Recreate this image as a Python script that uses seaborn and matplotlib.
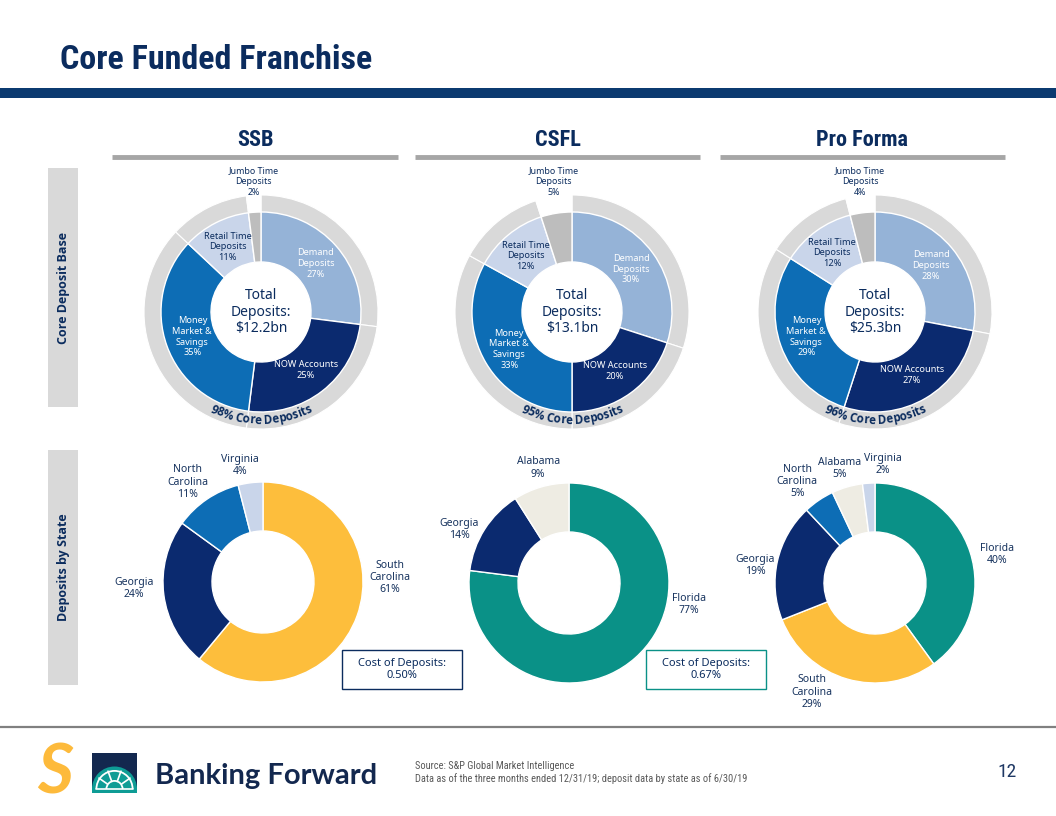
import numpy as np
import matplotlib
matplotlib.use("Agg")
import matplotlib.pyplot as plt
import seaborn as sns
from matplotlib import font_manager
from matplotlib.font_manager import FontProperties
from matplotlib.textpath import TextToPath
from matplotlib.patches import Rectangle, Wedge

# ---------------- data ----------------
banks = ["SSB", "CSFL", "Pro Forma"]
deposit_types = ["Demand\nDeposits", "NOW Accounts", "Money\nMarket &\nSavings",
                 "Retail Time\nDeposits", "Jumbo Time\nDeposits"]
ssb_mix = [27, 25, 35, 11, 2]
csfl_mix = [30, 20, 33, 12, 5]
proforma_mix = [28, 27, 29, 12, 4]
core_pct = [98, 95, 96]
total_deposits = ["$12.2bn", "$13.1bn", "$25.3bn"]

ssb_states = ["South\nCarolina", "Georgia", "North\nCarolina", "Virginia"]
ssb_state_pct = [61, 24, 11, 4]
csfl_states = ["Florida", "Georgia", "Alabama"]
csfl_state_pct = [77, 14, 9]
proforma_states = ["Florida", "South\nCarolina", "Georgia", "North\nCarolina", "Alabama", "Virginia"]
proforma_state_pct = [40, 29, 19, 5, 5, 2]

cost_of_deposits = ["0.50%", "0.67%"]

# ---------------- style ----------------
sns.set_theme(style="white")
fonts = font_manager.fontManager.ttflist
installed = {f.name for f in fonts}


def pick(*names):
    for n in names:
        if n in installed:
            return n
    return "DejaVu Sans"


def pick_bold(*names):
    for n in names:
        for f in fonts:
            w = f.weight if isinstance(f.weight, int) else 700 if "bold" in str(f.weight).lower() else 400
            if f.name == n and w >= 600 and f.style == "normal":
                return n
    return "DejaVu Sans"


BODY = pick("Noto Sans", "Open Sans", "DejaVu Sans")
BOLD = pick_bold("Noto Sans", "Open Sans", "Lato", "Roboto", "DejaVu Sans")
NARROW = pick("Liberation Sans Narrow", "Roboto Condensed", "DejaVu Sans Condensed")
NSCALE = 1.0 if NARROW != "DejaVu Sans" else 0.75
LOGO = pick("Lato", "Roboto", "DejaVu Sans")
plt.rcParams["font.family"] = [BODY, "DejaVu Sans"]

NAVY = "#0B2C5E"
LABEL = "#17335E"
RING = "#D9D9D9"
type_colors = sns.color_palette(["#95B3D7", "#0B2A6F", "#0D6DB5", "#C9D5EA", "#BDBDBD"])
state_colors = {
    "South\nCarolina": "#FDBE3C", "Georgia": "#0B2A6F", "North\nCarolina": "#0D6DB5",
    "Virginia": "#C9D5EA", "Florida": "#0A9187", "Alabama": "#EEECE3",
}

W, H = 1056, 816
fig = plt.figure(figsize=(W / 100, H / 100), dpi=100)
fig.patch.set_facecolor("white")
bg = fig.add_axes([0, 0, 1, 1])
bg.set_xlim(0, W)
bg.set_ylim(H, 0)
bg.axis("off")

# ---------------- slide frame ----------------
bg.text(60, 60, "Core Funded Franchise", fontsize=24.5 * NSCALE, fontweight="bold",
        family=[NARROW, "DejaVu Sans"], color=NAVY, ha="left", va="center")
bg.add_patch(Rectangle((0, 88), W, 10, color="#0B3A70", lw=0))

header_x = [(112, 398), (415, 700), (720, 1005)]
for name, (x0, x1) in zip(banks, header_x):
    bg.text((x0 + x1) / 2, 140, name, fontsize=16 * NSCALE, fontweight="bold",
            family=[NARROW, "DejaVu Sans"], color=NAVY, ha="center", va="center")
    bg.plot([x0, x1], [157, 157], color="#A6A6A6", lw=3.5, solid_capstyle="butt")

for (y0, y1), txt in zip([(168, 407), (450, 685)], ["Core Deposit Base", "Deposits by State"]):
    bg.add_patch(Rectangle((48, y0), 30, y1 - y0, color=RING, lw=0))
    bg.text(63.5, (y0 + y1) / 2, txt, rotation=90, fontsize=9, fontweight="bold",
            family=[BOLD, "DejaVu Sans"], color=NAVY, ha="center", va="center")

bg.plot([0, W], [727, 727], color="#808080", lw=1.6)

# logo
bg.text(55, 774, "S", fontsize=50, fontweight="bold", style="italic",
        family=[LOGO, "DejaVu Sans"], color="#FDBA3B", ha="center", va="center")
bg.add_patch(Rectangle((92, 753), 45, 40, color="#13284F", lw=0))
bg.add_patch(Rectangle((92, 789), 45, 4, color="#0E9C95", lw=0))
bg.add_patch(Wedge((114.5, 789), 22.5, 180, 360, color="#0E9C95", lw=0))
bg.add_patch(Wedge((114.5, 789), 19, 180, 360, width=1.8, color="white", lw=0))
bg.add_patch(Wedge((114.5, 789), 9, 180, 360, width=1.8, color="white", lw=0))
bg.plot([96, 133], [789, 789], color="white", lw=1.2)
for a in [215, 250, 290, 325]:
    t = np.radians(a)
    bg.plot([114.5 + 9 * np.cos(t), 114.5 + 19 * np.cos(t)],
            [789 + 9 * np.sin(t), 789 + 19 * np.sin(t)], color="white", lw=1.2)
bg.text(155, 776, "Banking Forward", fontsize=21, fontweight="bold",
        family=[LOGO, "DejaVu Sans"], color="#13284F", ha="left", va="center")
bg.text(415, 766, "Source: S&P Global Market Intelligence", fontsize=7.5 * NSCALE,
        family=[NARROW, "DejaVu Sans"], color="#595959", ha="left", va="center")
bg.text(415, 779, "Data as of the three months ended 12/31/19; deposit data by state as of 6/30/19",
        fontsize=7.5 * NSCALE, family=[NARROW, "DejaVu Sans"], color="#595959", ha="left", va="center")
bg.text(1007, 772, "12", fontsize=14 * NSCALE, family=[NARROW, "DejaVu Sans"],
        color="#1F3864", ha="center", va="center")

# ---------------- helpers ----------------
HALF = 150


def donut_ax(cx, cy):
    return fig.add_axes([(cx - HALF) / W, (H - cy - HALF) / H, 2 * HALF / W, 2 * HALF / H])


def finish(ax):
    ax.set_xlim(-HALF, HALF)
    ax.set_ylim(-HALF, HALF)
    ax.set_aspect("equal")
    ax.axis("off")


def mid_angles(vals):
    cum = np.cumsum(vals)
    return 90 - 360 * (cum - np.asarray(vals) / 2) / np.sum(vals)


ttp = TextToPath()


def arc_text(ax, s, r_base, fp, color):
    px = 100 / 72
    widths = [0.0] + [ttp.get_text_width_height_descent(s[:i], fp, ismath=False)[0] * px
                      for i in range(1, len(s) + 1)]
    total = widths[-1]
    for i, ch in enumerate(s):
        if ch == " ":
            continue
        c = (widths[i] + widths[i + 1]) / 2 - total / 2
        phi = c / r_base
        ax.text(r_base * np.sin(phi), -r_base * np.cos(phi), ch, fontproperties=fp,
                color=color, rotation=np.degrees(phi), rotation_mode="anchor",
                ha="center", va="baseline")


# ---------------- top row: deposit mix ----------------
top_centers = [(261, 312), (572, 312), (875, 312)]
mixes = [ssb_mix, csfl_mix, proforma_mix]
inner_text_colors = ["white", "white", "white", NAVY]
arc_fp = FontProperties(family=[BOLD, "DejaVu Sans"], weight="bold", size=8.4)

for (cx, cy), mix, core, total in zip(top_centers, mixes, core_pct, total_deposits):
    ax = donut_ax(cx, cy)
    ax.pie(mix, radius=117, startangle=90, counterclock=False,
           colors=[RING] * 4 + ["none"],
           wedgeprops=dict(width=18, edgecolor="white", linewidth=0.8))
    ax.pie(mix, radius=100, startangle=90, counterclock=False, colors=type_colors,
           wedgeprops=dict(width=50, edgecolor="white", linewidth=1.0))
    mids = np.radians(mid_angles(mix))
    for k in range(4):
        ax.text(73 * np.cos(mids[k]), 73 * np.sin(mids[k]), f"{deposit_types[k]}\n{mix[k]}%",
                ha="center", va="center", fontsize=6.6, color=inner_text_colors[k],
                linespacing=1.25)
    ax.text(120 * np.cos(mids[4]), 115, f"{deposit_types[4]}\n{mix[4]}%", ha="center",
            va="bottom", fontsize=6.4, color=NAVY, linespacing=1.25)
    ax.text(0, 0, f"Total\nDeposits:\n{total}", ha="center", va="center", fontsize=10,
            color=NAVY, linespacing=1.15)
    arc_text(ax, f"{core}% Core Deposits", 112, arc_fp, NAVY)
    finish(ax)

# ---------------- bottom row: deposits by state ----------------
bottom_centers = [(263, 582), (569, 583), (875, 583)]
state_sets = [(ssb_states, ssb_state_pct), (csfl_states, csfl_state_pct),
              (proforma_states, proforma_state_pct)]
# label anchor (angle clockwise from 12 o'clock, distance) as laid out on the slide
label_layout = [
    [(88, 127), (267, 129), (323, 125), (349, 119)],
    [(100, 122), (296, 122), (345, 119)],
    [(77, 125), (210, 126), (278.5, 121), (322.6, 128), (343, 120), (4, 119)],
]

for (cx, cy), (names, pct), layout in zip(bottom_centers, state_sets, label_layout):
    ax = donut_ax(cx, cy)
    ax.pie(pct, radius=100, startangle=90, counterclock=False,
           colors=[state_colors[n] for n in names],
           wedgeprops=dict(width=49, edgecolor="white", linewidth=1.0))
    for n, v, (ang, dist) in zip(names, pct, layout):
        t = np.radians(ang)
        ax.text(dist * np.sin(t), dist * np.cos(t), f"{n}\n{v}%", ha="center", va="center",
                fontsize=7.5, color=LABEL, linespacing=1.15)
    finish(ax)

# cost of deposits boxes
for x0, val, edge in zip([342, 646], cost_of_deposits, [NAVY, "#0A9187"]):
    bg.add_patch(Rectangle((x0, 650), 120, 39, fill=False, edgecolor=edge, lw=1.0))
    bg.text(x0 + 60, 669.5, f"Cost of Deposits:\n{val}", ha="center", va="center",
            fontsize=8, color=NAVY, linespacing=1.15)

fig.savefig("out.png", dpi=100, facecolor="white")
